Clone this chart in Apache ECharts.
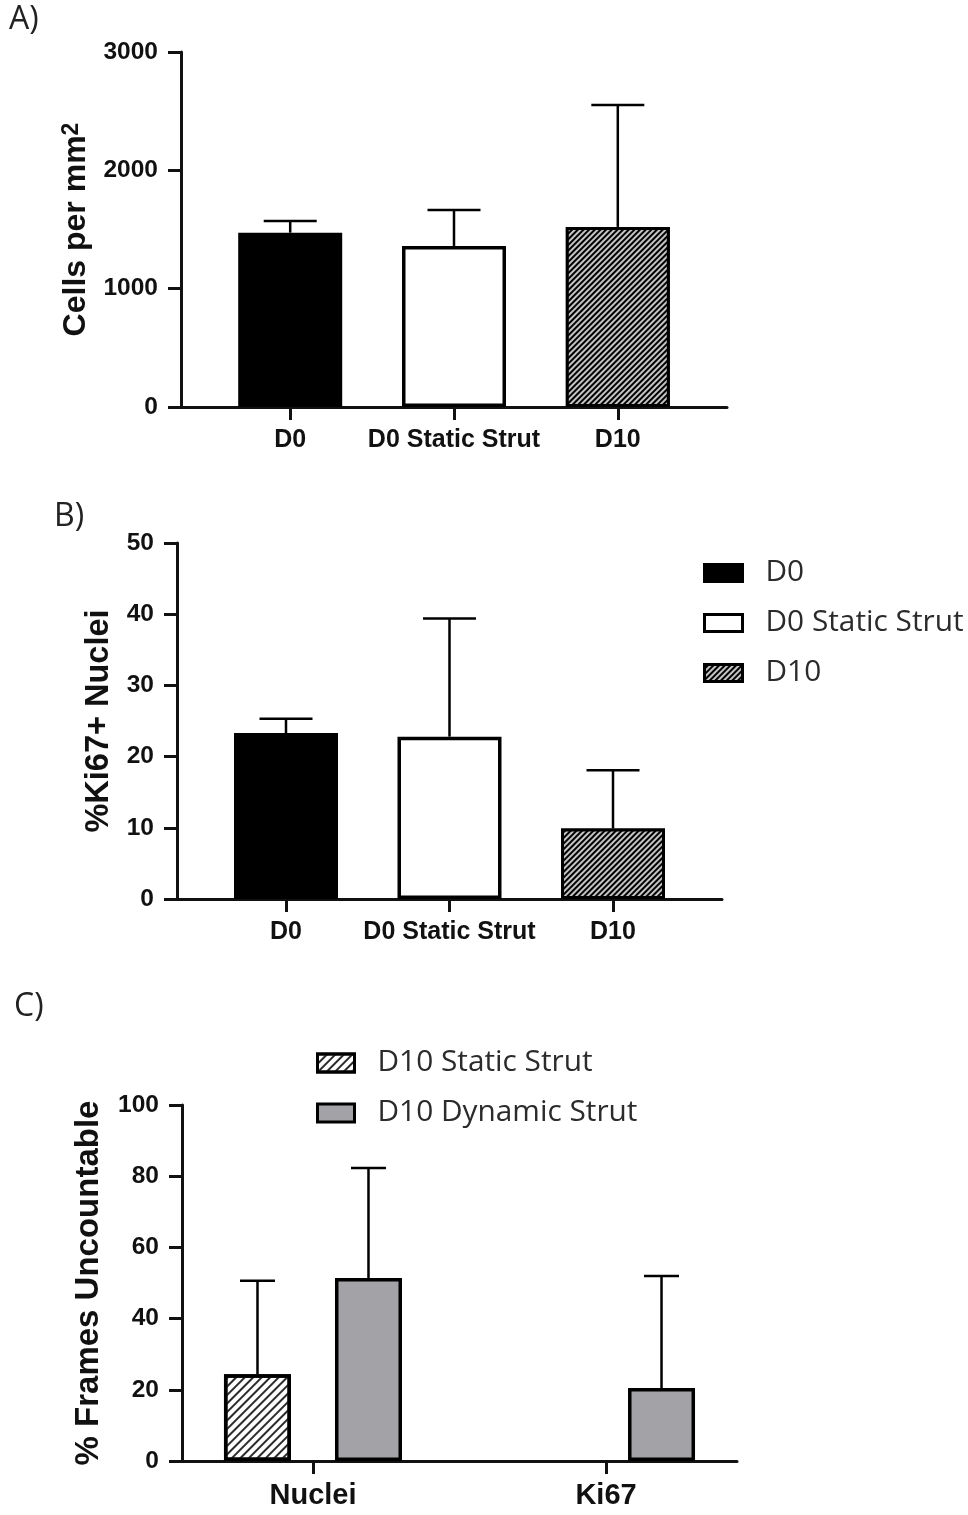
<!DOCTYPE html>
<html>
<head>
<meta charset="utf-8">
<script src="https://cdn.jsdelivr.net/npm/echarts@6/dist/echarts.min.js"></script>
<style>
  html, body { margin: 0; padding: 0; background: #fff; }
  #chart { width: 968px; height: 1515px; }
</style>
</head>
<body>
<div id="chart"></div>
<script>
// ---- Panel A: cell density (mean, upper SD) ----
const catsA = ['D0', 'D0 Static Strut', 'D10'];
const meanA = [1473, 1361, 1522];
const errA  = [99, 304, 1031];
const ticksA = [0, 1000, 2000, 3000];

// ---- Panel B: Ki67-positive nuclei (%) ----
const catsB = ['D0', 'D0 Static Strut', 'D10'];
const meanB = [23.3, 22.8, 9.9];
const errB  = [2.0, 16.6, 8.2];
const ticksB = [0, 10, 20, 30, 40, 50];

// ---- Panel C: frames that could not be counted (%) ----
const groupsC = ['Nuclei', 'Ki67'];
const seriesNamesC = ['D10 Static Strut', 'D10 Dynamic Strut'];
const staticMeanC  = [24.4, 0];
const staticErrC   = [26.2, 0];
const dynamicMeanC = [51.4, 20.5];
const dynamicErrC  = [30.9, 31.5];
const ticksC = [0, 20, 40, 60, 80, 100];

const AXIS_FONT = 'Liberation Sans, Arial, sans-serif';
const TEXT_FONT = 'Open Sans, Noto Sans, sans-serif';
const INK = '#111';

// Fill styles shared by the three groups
const hatchDark = {
  symbol: 'rect', symbolSize: 1, color: '#c4c4c4',
  dashArrayX: [1, 0], dashArrayY: [1.3, 1.9], rotation: -Math.PI / 4
};
const hatchLight = {
  symbol: 'rect', symbolSize: 1, color: '#2a2a2a',
  dashArrayX: [1, 0], dashArrayY: [1.6, 3.2], rotation: -Math.PI / 4
};
const groupStyles = [
  { color: '#000', borderColor: '#000', borderWidth: 3 },
  { color: '#fff', borderColor: '#000', borderWidth: 3.5 },
  { color: '#000', borderColor: '#000', borderWidth: 3, decal: hatchDark }
];
const styleStaticC  = { color: '#fff', borderColor: '#000', borderWidth: 3.5, decal: hatchLight };
const styleDynamicC = { color: '#a3a3a7', borderColor: '#000', borderWidth: 3.5 };

// Category positions on the numeric x axis: 1, 2, 3 ...
const pos = arr => arr.map((_, i) => i + 1);

function xAxisFor(gridIndex, labels, pad, labelSize, labelMargin) {
  const vals = pos(labels);
  return {
    gridIndex, type: 'value',
    min: 1 - pad, max: labels.length + pad,
    splitLine: { show: false },
    axisLine: { show: true, onZero: false, lineStyle: { color: INK, width: 3 } },
    axisTick: { show: true, customValues: vals, length: 13, lineStyle: { color: INK, width: 3 } },
    axisLabel: {
      customValues: vals, margin: labelMargin,
      formatter: v => labels[Math.round(v) - 1],
      fontFamily: AXIS_FONT, fontWeight: 'bold', fontSize: labelSize, color: INK
    }
  };
}

function yAxisFor(gridIndex, ticks, name, nameGap, nameSize, rich) {
  return {
    gridIndex, type: 'value',
    min: ticks[0], max: ticks[ticks.length - 1], interval: ticks[1] - ticks[0],
    splitLine: { show: false },
    axisLine: { show: true, onZero: false, lineStyle: { color: INK, width: 3 } },
    axisTick: { show: true, length: 13, lineStyle: { color: INK, width: 3 } },
    axisLabel: {
      margin: 23, formatter: v => String(v),
      fontFamily: AXIS_FONT, fontWeight: 'bold', fontSize: 24.5, color: INK
    },
    name, nameLocation: 'middle', nameGap, nameRotate: 90,
    nameTextStyle: { fontFamily: AXIS_FONT, fontWeight: 'bold', fontSize: nameSize, color: INK, rich }
  };
}

// Upper error bars: data rows are [x, mean, err]
function errorBars(axisIndex, rows, capW, offset) {
  return {
    type: 'custom', xAxisIndex: axisIndex, yAxisIndex: axisIndex,
    silent: true, z: 5, data: rows, encode: { x: 0, y: 1 },
    renderItem(params, api) {
      const x = api.value(0), m = api.value(1), e = api.value(2);
      if (!e) return null;
      const base = api.coord([x, m]);
      const top = api.coord([x, m + e]);
      const cx = base[0] + offset;
      const ls = { stroke: '#000', lineWidth: 2.5 };
      return {
        type: 'group', children: [
          { type: 'line', shape: { x1: cx, y1: base[1], x2: cx, y2: top[1] }, style: ls },
          { type: 'line', shape: { x1: cx - capW / 2, y1: top[1], x2: cx + capW / 2, y2: top[1] }, style: ls }
        ]
      };
    }
  };
}

// A zero mean has no visible bar; leave it out of the drawing
const barValue = v => (v === 0 ? null : v);

const BAR_AB = 104;
const BAR_C = 67;
const GAP_C = 44; // pixel gap between the two bars of a group in panel C

const series = [];

// Panel A bars (one series, per-item fills)
series.push({
  type: 'bar', name: 'Cells per mm2', xAxisIndex: 0, yAxisIndex: 0,
  barWidth: BAR_AB,
  data: meanA.map((v, i) => ({ value: [i + 1, v], itemStyle: groupStyles[i] }))
});
series.push(errorBars(0, meanA.map((v, i) => [i + 1, v, errA[i]]), 53, 0));

// Panel B bars (one series per group so the legend lists them)
catsB.forEach((name, i) => {
  series.push({
    type: 'bar', name, xAxisIndex: 1, yAxisIndex: 1,
    barWidth: BAR_AB, barGap: '-100%',
    itemStyle: groupStyles[i],
    data: [[i + 1, meanB[i]]]
  });
});
series.push(errorBars(1, meanB.map((v, i) => [i + 1, v, errB[i]]), 53, 0));

// Panel C bars (grouped)
const offC = (BAR_C + GAP_C) / 2;
const gapC = (GAP_C / BAR_C * 100).toFixed(1) + '%';
series.push({
  type: 'bar', name: seriesNamesC[0], xAxisIndex: 2, yAxisIndex: 2,
  barWidth: BAR_C, barGap: gapC,
  itemStyle: styleStaticC,
  data: staticMeanC.map((v, i) => [i + 1, barValue(v)])
});
series.push({
  type: 'bar', name: seriesNamesC[1], xAxisIndex: 2, yAxisIndex: 2,
  barWidth: BAR_C, barGap: gapC,
  itemStyle: styleDynamicC,
  data: dynamicMeanC.map((v, i) => [i + 1, barValue(v)])
});
series.push(errorBars(2, staticMeanC.map((v, i) => [i + 1, v, staticErrC[i]]), 35, -offC));
series.push(errorBars(2, dynamicMeanC.map((v, i) => [i + 1, v, dynamicErrC[i]]), 35, offC));

const panelLabel = (text, left, top) => ({
  text, left, top, padding: 0,
  textStyle: { fontFamily: TEXT_FONT, fontWeight: 'normal', fontSize: 32, color: '#222' }
});

const legendText = { fontFamily: TEXT_FONT, fontSize: 29.8, color: '#2b2b2b', padding: [0, 0, 0, 18] };

const option = {
  animation: false,
  backgroundColor: '#fff',
  title: [
    panelLabel('A)', 9, 4),
    panelLabel('B)', 54, 501),
    panelLabel('C)', 14, 991)
  ],
  legend: [
    {
      data: catsB, orient: 'vertical', left: 698, top: 553,
      itemWidth: 38, itemHeight: 17, itemGap: 20, icon: 'rect',
      itemStyle: { borderWidth: 3 },
      textStyle: legendText, selectedMode: false
    },
    {
      data: seriesNamesC, orient: 'vertical', left: 311, top: 1043,
      itemWidth: 37, itemHeight: 18, itemGap: 20, icon: 'rect',
      itemStyle: { borderWidth: 3 },
      textStyle: legendText, selectedMode: false
    }
  ],
  grid: [
    { left: 181, top: 52, width: 546, height: 355 },
    { left: 177, top: 543, width: 545, height: 356 },
    { left: 182, top: 1105, width: 555, height: 356 }
  ],
  xAxis: [
    xAxisFor(0, catsA, 2 / 3, 25, 21),
    xAxisFor(1, catsB, 2 / 3, 25, 21),
    xAxisFor(2, groupsC, 0.447, 29, 20)
  ],
  yAxis: [
    yAxisFor(0, ticksA, 'Cells per mm{sup|2}', 89, 32,
      { sup: { fontFamily: AXIS_FONT, fontWeight: 'bold', fontSize: 23, color: INK, verticalAlign: 'top' } }),
    yAxisFor(1, ticksB, '%Ki67+ Nuclei', 60, 32.5),
    yAxisFor(2, ticksC, '% Frames Uncountable', 77, 33)
  ],
  series
};

const chart = echarts.init(document.getElementById('chart'), null, { renderer: 'canvas' });
chart.setOption(option);
</script>
</body>
</html>
